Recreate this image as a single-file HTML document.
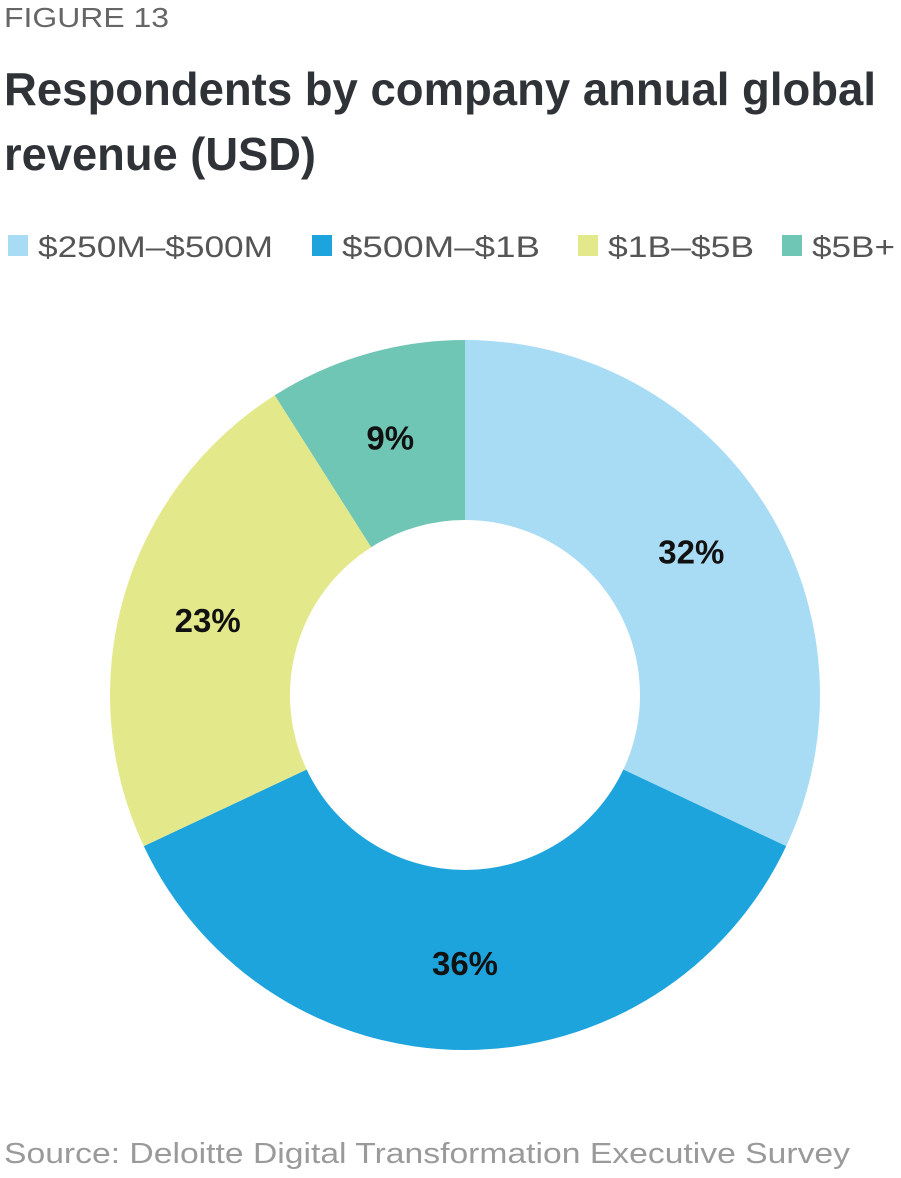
<!DOCTYPE html>
<html><head><meta charset="utf-8"><style>
html,body{margin:0;padding:0;background:#fff;}
svg{display:block;font-family:"Liberation Sans",sans-serif;}
</style></head><body>
<svg id="chart" width="901" height="1178" viewBox="0 0 901 1178">
<text x="4" y="27" font-size="28" fill="#666" textLength="165" lengthAdjust="spacingAndGlyphs">FIGURE 13</text>
<text x="4" y="105" font-size="46" font-weight="bold" fill="#2f3237" textLength="872" lengthAdjust="spacingAndGlyphs">Respondents by company annual global</text>
<text x="4" y="170" font-size="46" font-weight="bold" fill="#2f3237" textLength="312" lengthAdjust="spacingAndGlyphs">revenue (USD)</text>
<g id="legend"></g>
<g id="slices"></g>
<g id="labels"></g>
<text x="4" y="1163" font-size="29" fill="#9a9a9a" textLength="846" lengthAdjust="spacingAndGlyphs">Source: Deloitte Digital Transformation Executive Survey</text>
</svg>
<script>
const categories = ["$250M–$500M","$500M–$1B","$1B–$5B","$5B+"];
const values = [32,36,23,9];
const valueLabels = ["32%","36%","23%","9%"];
const colors = ["#a8dcf5","#1ea4dd","#e3e88a","#6fc6b4"];
const NS="http://www.w3.org/2000/svg";
const cx=465, cy=695, R=355, r=175, LR=268;
const total=values.reduce((a,b)=>a+b,0);
function pt(rad,a){return [cx+rad*Math.sin(a), cy-rad*Math.cos(a)];}
const sl=document.getElementById('slices'), lb=document.getElementById('labels'), lg=document.getElementById('legend');
let acc=0;
values.forEach((v,i)=>{
  const a0=acc/total*2*Math.PI; acc+=v; const a1=acc/total*2*Math.PI;
  const large=(a1-a0)>Math.PI?1:0;
  const [x0,y0]=pt(R,a0),[x1,y1]=pt(R,a1),[x2,y2]=pt(r,a1),[x3,y3]=pt(r,a0);
  const p=document.createElementNS(NS,'path');
  p.setAttribute('d',`M${x0},${y0}A${R},${R} 0 ${large} 1 ${x1},${y1}L${x2},${y2}A${r},${r} 0 ${large} 0 ${x3},${y3}Z`);
  p.setAttribute('fill',colors[i]);
  
  
  sl.appendChild(p);
  const [lx,ly]=pt(LR,(a0+a1)/2);
  const t=document.createElementNS(NS,'text');
  t.setAttribute('x',lx); t.setAttribute('y',ly+12);
  t.setAttribute('text-anchor','middle'); t.setAttribute('font-size','33'); t.setAttribute('font-weight','bold'); t.setAttribute('fill','#111');
  t.textContent=valueLabels[i];
  
  
  lb.appendChild(t);
});
const legX=[8,312,578,782], legW=[235,198,146,83];
categories.forEach((c,i)=>{
  const s=document.createElementNS(NS,'rect');
  s.setAttribute('x',legX[i]); s.setAttribute('y',235); s.setAttribute('width',20); s.setAttribute('height',21); s.setAttribute('fill',colors[i]);
  
  
  lg.appendChild(s);
  const t=document.createElementNS(NS,'text');
  t.setAttribute('x',legX[i]+30); t.setAttribute('y',257); t.setAttribute('font-size','30'); t.setAttribute('fill','#555');
  t.setAttribute('textLength',legW[i]); t.setAttribute('lengthAdjust','spacingAndGlyphs');
  t.textContent=c;
  
  
  lg.appendChild(t);
});
</script>
</body></html>
